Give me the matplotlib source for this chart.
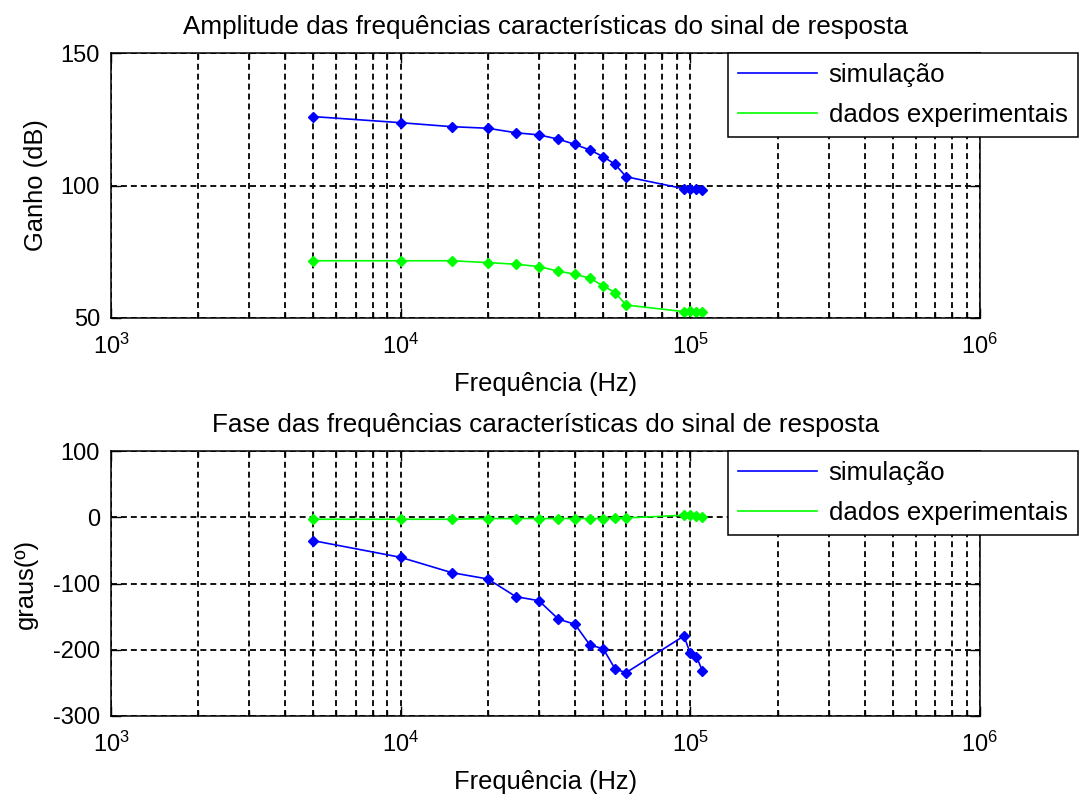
# Bode-style plot: simulacao vs dados experimentais
import matplotlib
matplotlib.use('Agg')
import matplotlib.pyplot as plt
from matplotlib.ticker import LogLocator, NullFormatter

plt.rcParams['font.family'] = ['Liberation Sans', 'DejaVu Sans']
plt.rcParams['mathtext.fontset'] = 'custom'
plt.rcParams['mathtext.rm'] = 'Liberation Sans'
plt.rcParams['mathtext.it'] = 'Liberation Sans'
plt.rcParams['axes.unicode_minus'] = False
plt.rcParams['font.size'] = 17

# data
freq = [5000, 10000, 15000, 20000, 25000, 30000, 35000, 40000, 45000,
        50000, 55000, 60000, 95000, 100000, 105000, 110000]
ganho_sim = [126.0, 123.7, 122.2, 121.6, 119.9, 119.1, 117.5, 115.5, 113.4,
             110.9, 108.0, 103.3, 98.8, 98.7, 98.8, 98.3]
ganho_exp = [71.6, 71.6, 71.6, 70.9, 70.3, 69.4, 67.7, 66.5, 65.0,
             62.1, 59.6, 54.9, 52.4, 52.6, 52.3, 52.3]
fase_sim = [-35.4, -60.5, -83.6, -93.2, -119.9, -125.9, -153.6, -161.7, -192.8,
            -198.4, -229.0, -234.6, -179.2, -205.4, -210.4, -231.6]
fase_exp = [-3, -3, -3, -2, -2, -2, -2, -2, -2,
            -2, -1, -1, 3, 3, 2, 1]

W, H = 1081, 801
fig = plt.figure(figsize=(W / 100, H / 100), dpi=100)

ax1 = fig.add_axes([111 / W, 1 - 318 / H, 869 / W, 265 / H])
ax2 = fig.add_axes([111 / W, 1 - 716 / H, 869 / W, 265 / H])

grid_ls = (0, (3.3, 2.2))


def draw(ax, y_sim, y_exp, ylim, yticks, title, ylabel, ylab_x, leg_top):
    ax.semilogx(freq, y_sim, '-', color='#0000ff', lw=1.2, label='simulação')
    ax.semilogx(freq, y_exp, '-', color='#00ff00', lw=1.2, label='dados experimentais')
    ax.plot(freq, y_sim, 'D', color='#0000ff', ms=5.2)
    ax.plot(freq, y_exp, 'D', color='#00ff00', ms=5.2)
    ax.set_xlim(1e3, 1e6)
    ax.set_ylim(*ylim)
    ax.set_yticks(yticks)
    ax.xaxis.set_major_locator(LogLocator(base=10, numticks=10))
    ax.xaxis.set_minor_locator(LogLocator(base=10, subs=range(2, 10), numticks=10))
    ax.xaxis.set_minor_formatter(NullFormatter())
    ax.grid(True, which='major', color='k', ls=grid_ls, lw=1.3)
    ax.grid(True, which='minor', axis='x', color='k', ls=grid_ls, lw=1.3)
    ax.tick_params(which='both', direction='in', top=True, right=True, width=1.0)
    ax.tick_params(which='major', length=7)
    ax.tick_params(which='minor', length=4)
    ax.tick_params(axis='x', which='major', pad=11)
    ax.tick_params(axis='y', pad=8)
    for s in ax.spines.values():
        s.set_linewidth(1.1)
    ax.set_title(title, pad=14, fontsize=18.8)
    ax.set_xlabel('Frequência (Hz)', labelpad=10, fontsize=18.4)
    ax.set_ylabel(ylabel, fontsize=18.4)
    ax.yaxis.set_label_coords(ylab_x, 0.5)
    leg = ax.legend(loc='upper left', bbox_to_anchor=(728 / W, 1 - leg_top / H),
                    bbox_transform=fig.transFigure, borderaxespad=0,
                    fancybox=False, framealpha=1, edgecolor='k', fontsize=18.6,
                    handlelength=3.06, handletextpad=0.44, borderpad=0.4,
                    labelspacing=0.6)
    leg.get_frame().set_linewidth(1.1)


draw(ax1, ganho_sim, ganho_exp, (50, 150), [50, 100, 150],
     'Amplitude das frequências características do sinal de resposta',
     'Ganho (dB)', -0.072, 53)
draw(ax2, fase_sim, fase_exp, (-300, 100), [-300, -200, -100, 0, 100],
     'Fase das frequências características do sinal de resposta',
     'graus(º)', -0.084, 451)

fig.savefig('out.png', dpi=100)
